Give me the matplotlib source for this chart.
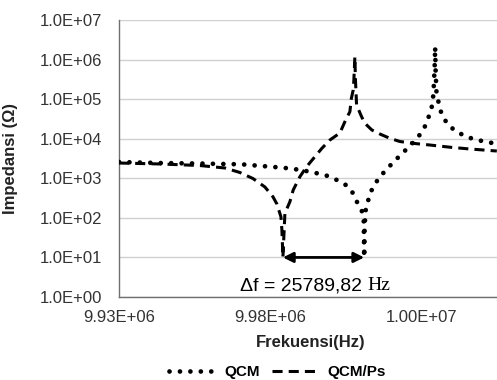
import matplotlib
matplotlib.use("Agg")
import matplotlib.pyplot as plt
from matplotlib.ticker import FixedLocator, FuncFormatter, NullLocator
import numpy as np

plt.rcParams['font.family'] = ['Liberation Sans', 'DejaVu Sans']

# QCM (dotted) - frequency (Hz) and impedance (ohm)
f_qcm = [9.930000e6, 9.943530e6, 9.956730e6, 9.970590e6, 9.977190e6, 9.984120e6,
         9.987750e6, 9.991710e6, 9.995340e6, 9.998640e6, 10.001940e6, 10.004910e6,
         10.007220e6, 10.008705e6, 10.010091e6, 10.010784e6, 10.010883e6, 10.010949e6,
         10.011114e6, 10.011510e6, 10.012600e6, 10.013720e6, 10.015900e6, 10.018340e6,
         10.020750e6, 10.023290e6, 10.026030e6, 10.028440e6, 10.030650e6, 10.032070e6,
         10.033190e6, 10.033720e6, 10.033950e6, 10.034115e6, 10.034280e6, 10.034380e6,
         10.034544e6, 10.034840e6, 10.035700e6, 10.036590e6, 10.038670e6, 10.041440e6,
         10.044740e6, 10.048040e6, 10.051340e6, 10.054640e6]
z_qcm = [2580, 2430, 2360, 2250, 2040, 1850,
         1720, 1530, 1340, 1160, 905, 676,
         425, 241, 158, 97.5, 27.5, 10,
         65.9, 174, 336, 578, 1035, 1687,
         2624, 4110, 6546, 10230, 17590, 32800,
         58700, 115300, 227600, 458000, 883000, 2.08e6,
         485000, 140500, 71100, 39700, 22200, 15030,
         11240, 9270, 8400, 7350]

# QCM/Ps (dashed)
f_ps = [9.930000e6, 9.943530e6, 9.956730e6, 9.964980e6, 9.969930e6, 9.974220e6,
        9.978180e6, 9.980820e6, 9.982140e6, 9.983460e6, 9.983790e6, 9.984120e6,
        9.984780e6, 9.986430e6, 9.987520e6, 9.989730e6, 9.991940e6, 9.994680e6,
        9.996990e6, 9.999630e6, 10.002930e6, 10.004580e6, 10.006230e6, 10.006725e6,
        10.007320e6, 10.007550e6, 10.007880e6, 10.008045e6, 10.008440e6, 10.010090e6,
        10.011180e6, 10.013490e6, 10.016130e6, 10.019430e6, 10.022730e6, 10.027020e6,
        10.032630e6, 10.039560e6, 10.045830e6, 10.054740e6]
z_ps = [2430, 2300, 2100, 1820, 1400, 987,
        602, 342, 224, 107, 49.3, 10,
        130, 256, 506, 1096, 1963, 3510,
        5725, 9270, 13940, 26900, 48200, 105000,
        170000, 305000, 1.18e6, 342000, 71100, 36000,
        24500, 16600, 13150, 10230, 8500, 7650,
        6930, 6065, 5500, 4890]

x_ticks = [9.93e6, 9.98e6, 10.03e6]
y_ticks = [1e0, 1e1, 1e2, 1e3, 1e4, 1e5, 1e6, 1e7]
delta_label = "\u0394f = 25789,82"

fig = plt.figure(figsize=(4.97, 3.8), dpi=100)
ax = fig.add_axes([0.2394, 0.2184, 0.7606, 0.729])

ax.plot(f_qcm, z_qcm, color='black', lw=3.4, linestyle=(0, (0.01, 2.2)),
        dash_capstyle='round', label='QCM', zorder=3)
ax.plot(f_ps, z_ps, color='black', lw=2.2, linestyle=(0, (3.3, 2.0)),
        label='QCM/Ps', zorder=3)

ax.set_yscale('log')
ax.set_ylim(1e0, 1e7)
ax.set_xlim(9.93e6, 1.00548e7)
ax.yaxis.set_major_locator(FixedLocator(y_ticks))
ax.yaxis.set_minor_locator(NullLocator())
ax.yaxis.set_major_formatter(FuncFormatter(lambda v, p: f"{v:.1E}"))
ax.xaxis.set_major_locator(FixedLocator(x_ticks))
ax.xaxis.set_major_formatter(FuncFormatter(lambda v, p: f"{v:.2E}"))

ax.grid(axis='y', color='#d0d0d0', lw=1)
ax.set_axisbelow(True)
for s in ['top', 'right']:
    ax.spines[s].set_visible(False)
for s in ['left', 'bottom']:
    ax.spines[s].set_color('#707070')
    ax.spines[s].set_linewidth(1)
ax.tick_params(axis='y', length=0, pad=12, labelsize=12, labelcolor='#333333')
ax.tick_params(axis='x', length=0, pad=9, labelsize=12, labelcolor='#333333')

ax.set_ylabel('Impedansi (\u03a9)', fontsize=12, fontweight='bold', color='#222222')
ax.yaxis.set_label_coords(-0.267, 0.5)
ax.set_xlabel('Frekuensi(Hz)', fontsize=12, fontweight='bold', color='#222222')
ax.xaxis.set_label_coords(0.507, -0.166)
ax.xaxis.label.set_va('center')

# arrow between the two minima
i1 = int(np.argmin(z_ps))
i2 = int(np.argmin(z_qcm))
ax.annotate('', xy=(f_qcm[i2], z_qcm[i2]), xytext=(f_ps[i1], z_ps[i1]),
            arrowprops=dict(arrowstyle='<|-|>', color='black', lw=2,
                            shrinkA=0, shrinkB=0, mutation_scale=15), zorder=4)
ax.text(0.320, 0.025, delta_label, transform=ax.transAxes, fontsize=14,
        va='baseline', ha='left')
ax.text(0.656, 0.025, 'Hz', transform=ax.transAxes, fontsize=14,
        va='baseline', ha='left', family=['Liberation Serif', 'DejaVu Serif'])

leg = fig.legend(loc='center', bbox_to_anchor=(0.558, 0.02), ncol=2, frameon=False,
                 handlelength=3.1, handletextpad=0.5, columnspacing=0.8,
                 prop={'size': 11, 'weight': 'bold'})

fig.savefig('out.png', dpi=100)
